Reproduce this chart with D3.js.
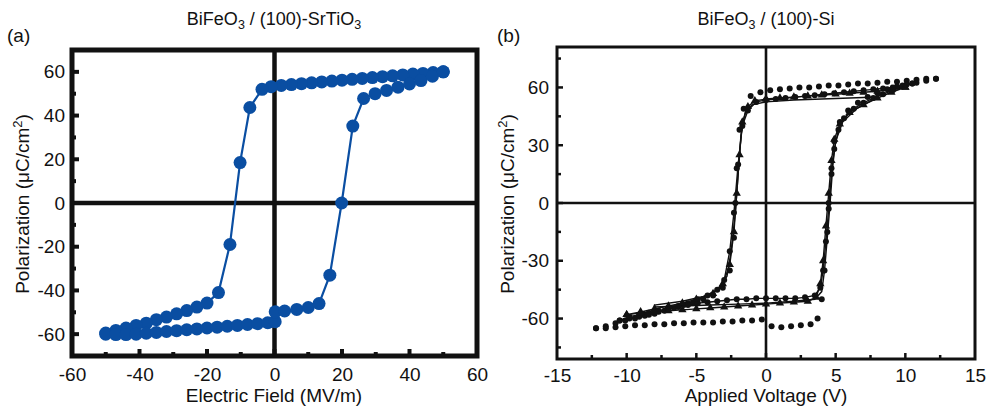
<!DOCTYPE html>
<html>
<head>
<meta charset="utf-8">
<script src="https://cdn.jsdelivr.net/npm/d3@7"></script>
<style>
  body { margin: 0; background: #fff; }
  text { font-family: "Liberation Sans", Arial, Helvetica, sans-serif; fill: #111; }
</style>
</head>
<body>
<svg id="chart" width="988" height="408"></svg>
<script>
// ---- panel (a): BiFeO3 / (100)-SrTiO3, [E (MV/m), P (uC/cm2)] ----
const stoUpper = [
  [50, 60], [47, 59.7], [44, 59.3], [41, 59], [38, 58.6], [35, 58.2], [32, 57.8],
  [29, 57.4], [26, 57], [23, 56.6], [20, 56.2], [17, 55.8], [14, 55.4], [11, 55],
  [8, 54.6], [5, 54.2], [2, 53.8], [-1, 53.2], [-3.7, 52], [-7.3, 43.7],
  [-10.2, 18.5], [-13.2, -19], [-16.6, -41], [-20, -45.8], [-23, -47.6],
  [-26, -49.2], [-29, -50.7], [-32, -52.2], [-35, -53.4], [-38, -55], [-41, -56],
  [-44, -57.2], [-47, -58.3], [-50, -59.5]
];
const stoLower = [
  [-50, -60], [-47, -60.2], [-44, -60.2], [-41, -60], [-38, -59.6], [-35, -59.2],
  [-32, -58.8], [-29, -58.4], [-26, -58], [-23, -57.6], [-20, -57.2], [-17, -56.8],
  [-14, -56.4], [-11, -56], [-8, -55.6], [-5, -55.2], [-2, -54.8], [0.2, -54.3],
  [0.2, -49.8], [3, -49.4], [6.6, -48.7], [10, -47.8], [13.2, -46], [16.4, -33],
  [19.9, 0], [23.2, 35.2], [26.4, 47.8], [29.8, 50], [33.2, 51.5], [36.6, 53],
  [40, 54.5], [43.4, 56], [46.8, 58], [50, 60]
];
const stoXTicks = [-60, -40, -20, 0, 20, 40, 60];
const stoXMinor = [-50, -30, -10, 10, 30, 50];
const stoYTicks = [-60, -40, -20, 0, 20, 40, 60];
const stoYMinor = [-50, -30, -10, 10, 30, 50];

// ---- panel (b): BiFeO3 / (100)-Si, [V, P (uC/cm2)] ----
const siDotUpper = [
  [12.2, 64.5], [11.5, 64.5], [10.8, 64], [10.1, 63.5], [9.4, 63], [8.7, 63], [8, 62.5],
  [7.3, 62], [6.6, 62], [5.9, 61.5], [5.2, 61], [4.5, 61], [3.8, 60.5], [3.1, 60],
  [2.4, 60], [1.7, 59.5], [1, 59], [0.3, 58.5], [-0.4, 57.5], [-1.1, 55.5], [-1.6, 49],
  [-1.9, 38], [-2.1, 18], [-2.2, 0], [-2.3, -18], [-2.6, -35], [-3.1, -44], [-3.8, -48],
  [-4.5, -50], [-5.2, -51.5], [-5.9, -53], [-6.6, -54.5], [-7.3, -56], [-8, -57.5],
  [-8.7, -58.5], [-9.4, -60], [-10.1, -61], [-10.8, -62.5], [-11.5, -64], [-12.2, -65]
];
const siDotLower = [
  [-12.2, -65], [-11.5, -65], [-10.8, -64.5], [-10.1, -64], [-9.4, -63.5], [-8.7, -63.5],
  [-8, -63], [-7.3, -63], [-6.6, -62.5], [-5.9, -62.5], [-5.2, -62], [-4.5, -62],
  [-3.8, -62], [-3.1, -61.5], [-2.4, -61.5], [-1.7, -61], [-1, -61], [-0.3, -60.5],
  [0.4, -64], [1.1, -64.5], [1.8, -64], [2.5, -63.5], [3.2, -63], [3.7, -60], [4, -50],
  [4.2, -35], [4.4, -15], [4.5, 0], [4.7, 18], [4.9, 32], [5.3, 42], [5.9, 48],
  [6.6, 52], [7.3, 55], [8, 57], [8.7, 59], [9.4, 60.5], [10.1, 61.5], [10.8, 62.5],
  [11.5, 63.5], [12.2, 64.5]
];
const siDot2Upper = [
  [10.5, 62], [9.8, 61], [9.1, 60], [8.4, 59.5], [7.7, 59], [7, 58.5], [6.3, 58],
  [5.6, 57.5], [4.9, 57], [4.2, 56.5], [3.5, 56], [2.8, 55.5], [2.1, 55], [1.4, 54.5],
  [0.7, 54], [0, 53.5], [-0.7, 52.5], [-1.3, 48], [-1.7, 40], [-2, 20], [-2.3, -5],
  [-2.6, -25], [-3, -40], [-3.5, -45], [-4.2, -48], [-4.9, -50], [-5.6, -52],
  [-6.3, -53.5], [-7, -55], [-7.7, -56.5], [-8.4, -58], [-9.1, -59], [-9.8, -60],
  [-10.5, -61]
];
const siDot2Lower = [
  [-10.5, -61], [-9.8, -59], [-9.1, -58], [-8.4, -57], [-7.7, -56], [-7, -55],
  [-6.3, -54], [-5.6, -53], [-4.9, -52], [-4.2, -51.5], [-3.5, -51], [-2.8, -50.5],
  [-2.1, -50], [-1.4, -50], [-0.7, -49.5], [0, -49.5], [0.7, -49.5], [1.4, -49.5],
  [2.1, -49.5], [2.8, -49], [3.5, -48], [3.9, -44], [4.1, -35], [4.3, -20], [4.5, -3],
  [4.7, 15], [4.9, 28], [5.2, 38], [5.6, 44], [6.3, 49], [7, 52], [7.7, 54.5],
  [8.4, 56.5], [9.1, 58.5], [9.8, 60.5], [10.5, 62]
];
const siTriUpper = [
  [10, 60], [9, 59], [8, 58], [7, 57.5], [6, 57], [5, 56.5], [4, 56], [3, 55.5],
  [2, 55], [1, 54.5], [0, 54], [-0.8, 53], [-1.3, 50], [-1.7, 42], [-1.9, 25],
  [-2.1, 5], [-2.3, -15], [-2.6, -32], [-3.1, -42], [-3.8, -47], [-5, -50],
  [-6, -52], [-7, -53.5], [-8, -55], [-9, -56.5], [-10, -58]
];
const siTriLower = [
  [-10, -58], [-9, -57], [-8, -56.5], [-7, -56], [-6, -55.5], [-5, -55], [-4, -54.5],
  [-3, -54], [-2, -53.5], [-1, -53], [0, -52.5], [1, -52], [2, -51.5], [3, -51],
  [3.6, -49], [3.9, -42], [4.1, -30], [4.3, -12], [4.5, 5], [4.7, 22], [4.9, 33],
  [5.3, 41], [6, 47], [7, 51], [8, 54.5], [9, 57.5], [10, 60]
];
const siLineUpper = [
  [8, 55], [6, 54.5], [4, 54], [2, 53.5], [0, 52.5], [-1, 51], [-1.5, 47], [-1.8, 35],
  [-2, 15], [-2.2, -5], [-2.5, -25], [-2.8, -38], [-3.4, -45], [-4.5, -48.5],
  [-6, -51], [-8, -53]
];
const siLineLower = [
  [-8, -54], [-6, -53.5], [-4, -53], [-2, -52.5], [0, -52], [2, -51], [3.5, -50],
  [4, -46], [4.2, -35], [4.4, -18], [4.6, 0], [4.8, 20], [5, 32], [5.5, 42],
  [6.5, 49], [8, 55]
];
const siXTicks = [-15, -10, -5, 0, 5, 10, 15];
const siXMinor = [-12.5, -7.5, -2.5, 2.5, 7.5, 12.5];
const siYTicks = [-60, -30, 0, 30, 60];
const siYMinor = [-75, -45, -15, 15, 45, 75];

const FONT = 19;
const svg = d3.select('#chart');
const line = d3.line();
const plain = d => String(d); // hyphen minus, as in the original

// title text with subscripts; parts = [[text, subscript], ...]
const subTitle = (x, y, parts) => {
  const t = svg.append('text')
    .attr('x', x).attr('y', y)
    .attr('text-anchor', 'middle')
    .attr('font-size', 18);
  let shifted = false;
  parts.forEach(([str, sub]) => {
    t.append('tspan').attr('dy', shifted ? -4 : 0).text(str);
    shifted = false;
    if (sub) {
      t.append('tspan').attr('font-size', 12.5).attr('dy', 4).text(sub);
      shifted = true;
    }
  });
};

const yTitle = (x, y) => {
  const t = svg.append('text')
    .attr('transform', `translate(${x},${y}) rotate(-90)`)
    .attr('text-anchor', 'middle')
    .attr('font-size', FONT);
  t.append('tspan').text('Polarization (\u03bcC/cm');
  t.append('tspan').attr('font-size', 13).attr('dy', -7).text('2');
  t.append('tspan').attr('dy', 7).text(')');
};

const drawFrame = (opts) => {
  const { x, y, frameW, zeroW, xTicks, xMinor, yTicks, yMinor, tickW, major, minor } = opts;
  const [x0, x1] = x.range();
  const [y0, y1] = y.range();
  const g = svg.append('g');

  g.append('line')
    .attr('x1', x0).attr('x2', x1)
    .attr('y1', y(0)).attr('y2', y(0))
    .attr('stroke', '#111').attr('stroke-width', zeroW);
  g.append('line')
    .attr('x1', x(0)).attr('x2', x(0))
    .attr('y1', y0).attr('y2', y1)
    .attr('stroke', '#111').attr('stroke-width', zeroW);

  // inward tick marks (none at the frame corners)
  const inner = xTicks.filter(v => v > x.domain()[0] && v < x.domain()[1]);
  const ticks = g.append('g').attr('stroke', '#111').attr('stroke-width', tickW);
  yTicks.forEach(v => ticks.append('line')
    .attr('x1', x0).attr('x2', x0 + major).attr('y1', y(v)).attr('y2', y(v)));
  yMinor.forEach(v => ticks.append('line')
    .attr('x1', x0).attr('x2', x0 + minor).attr('y1', y(v)).attr('y2', y(v)));
  inner.forEach(v => ticks.append('line')
    .attr('x1', x(v)).attr('x2', x(v)).attr('y1', y0).attr('y2', y0 - major));
  xMinor.forEach(v => ticks.append('line')
    .attr('x1', x(v)).attr('x2', x(v)).attr('y1', y0).attr('y2', y0 - minor));

  g.append('rect')
    .attr('x', x0).attr('y', y1)
    .attr('width', x1 - x0).attr('height', y0 - y1)
    .attr('fill', 'none').attr('stroke', '#111').attr('stroke-width', frameW);

  const xAxis = svg.append('g')
    .attr('transform', `translate(0,${y0})`)
    .call(d3.axisBottom(x).tickValues(xTicks).tickFormat(plain)
      .tickSize(0).tickPadding(opts.xPad));
  const yAxis = svg.append('g')
    .attr('transform', `translate(${x0},0)`)
    .call(d3.axisLeft(y).tickValues(yTicks).tickFormat(plain)
      .tickSize(0).tickPadding(opts.yPad));
  [xAxis, yAxis].forEach(a => {
    a.select('.domain').remove();
    a.selectAll('text').attr('font-size', FONT).attr('fill', '#111')
      .attr('font-family', '"Liberation Sans", Arial, sans-serif');
  });
};

// ---------------- panel (a) ----------------
const xA = d3.scaleLinear().domain([-60, 60]).range([72, 477]);
const yA = d3.scaleLinear().domain([-70, 70]).range([356, 50]);

drawFrame({
  x: xA, y: yA, frameW: 5, zeroW: 4.5, tickW: 4, major: 7, minor: 4,
  xTicks: stoXTicks, xMinor: stoXMinor,
  yTicks: stoYTicks, yMinor: stoYMinor, xPad: 12, yPad: 7
});

const blue = '#0a4ea2';
const stoAll = stoUpper.concat(stoLower);
svg.append('path')
  .attr('d', line(stoAll.map(([e, p]) => [xA(e), yA(p)])))
  .attr('fill', 'none').attr('stroke', blue).attr('stroke-width', 2.2);
svg.append('g').selectAll('circle')
  .data(stoAll)
  .join('circle')
  .attr('cx', d => xA(d[0]))
  .attr('cy', d => yA(d[1]))
  .attr('r', 6.5)
  .attr('fill', blue);

subTitle(274, 25, [['BiFeO', '3'], [' / (100)-SrTiO', '3']]);
svg.append('text').attr('x', 7).attr('y', 42).attr('font-size', FONT).text('(a)');
yTitle(29, 204);
svg.append('text').attr('x', 274).attr('y', 402).attr('text-anchor', 'middle')
  .attr('font-size', FONT).text('Electric Field (MV/m)');

// ---------------- panel (b) ----------------
const xB = d3.scaleLinear().domain([-15, 15]).range([557, 975]);
const yB = d3.scaleLinear().domain([-81, 81]).range([359, 47]);

drawFrame({
  x: xB, y: yB, frameW: 3, zeroW: 2.6, tickW: 2.5, major: 6, minor: 4,
  xTicks: siXTicks, xMinor: siXMinor,
  yTicks: siYTicks, yMinor: siYMinor, xPad: 10, yPad: 8
});

const siLoops = [
  siLineUpper.concat(siLineLower),
  siTriUpper.concat(siTriLower),
  siDot2Upper.concat(siDot2Lower)
];
svg.append('g').selectAll('path')
  .data(siLoops)
  .join('path')
  .attr('d', d => line(d.map(([v, p]) => [xB(v), yB(p)])))
  .attr('fill', 'none').attr('stroke', '#111').attr('stroke-width', 1.4);

const siDots = siDotUpper.concat(siDotLower, siDot2Upper, siDot2Lower);
svg.append('g').selectAll('circle')
  .data(siDots)
  .join('circle')
  .attr('cx', d => xB(d[0]))
  .attr('cy', d => yB(d[1]))
  .attr('r', 3)
  .attr('fill', '#111');

const tri = d3.symbol().type(d3.symbolTriangle).size(30);
svg.append('g').selectAll('path')
  .data(siTriUpper.concat(siTriLower))
  .join('path')
  .attr('transform', d => `translate(${xB(d[0])},${yB(d[1])})`)
  .attr('d', tri)
  .attr('fill', '#111');

subTitle(766, 25, [['BiFeO', '3'], [' / (100)-Si', null]]);
svg.append('text').attr('x', 497).attr('y', 42).attr('font-size', FONT).text('(b)');
yTitle(514, 204);
svg.append('text').attr('x', 766).attr('y', 402).attr('text-anchor', 'middle')
  .attr('font-size', FONT).text('Applied Voltage (V)');
</script>
</body>
</html>
